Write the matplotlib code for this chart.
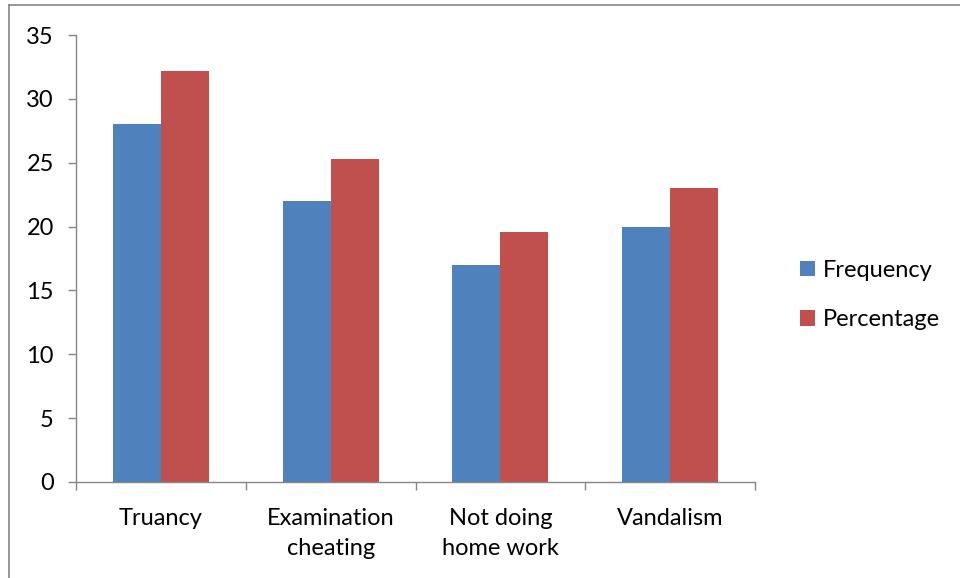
import matplotlib.pyplot as plt
from matplotlib.lines import Line2D
import numpy as np

categories = ["Truancy", "Examination\ncheating", "Not doing\nhome work", "Vandalism"]
frequency = [28, 22, 17, 20]
percentage = [32.18, 25.29, 19.54, 22.99]

plt.rcParams['font.family'] = ['Lato', 'DejaVu Sans']

fig = plt.figure(figsize=(9.6, 5.78), dpi=100)
ax = fig.add_axes([0.0792, 0.1661, 0.7073, 0.7733])

x = np.arange(len(categories))
w = 0.283
ax.bar(x - w / 2, frequency, w, color="#4f81bd", label="Frequency")
ax.bar(x + w / 2, percentage, w, color="#c0504d", label="Percentage")

ax.set_xlim(-0.5, len(categories) - 0.5)
ax.set_ylim(0, 35)
ax.set_yticks(range(0, 36, 5))

# category ticks sit on group boundaries, labels in the middle
ax.set_xticks(np.arange(-0.5, len(categories), 1))
ax.set_xticklabels([])
ax.set_xticks(x, minor=True)
ax.set_xticklabels(categories, minor=True, fontsize=17, linespacing=1.5)
ax.tick_params(axis='x', which='minor', length=0, pad=19)
ax.tick_params(axis='x', which='major', length=6, color="#868686", width=1)
ax.tick_params(axis='y', length=6, color="#868686", width=1, labelsize=17, pad=10)

for s in ["top", "right"]:
    ax.spines[s].set_visible(False)
for s in ["left", "bottom"]:
    ax.spines[s].set_color("#868686")
    ax.spines[s].set_linewidth(1)

fig.legend(*ax.get_legend_handles_labels(), loc="center left",
           bbox_to_anchor=(800 / 960, 1 - 295 / 578), frameon=False,
           fontsize=17, handlelength=0.62, handleheight=0.62, handletextpad=0.35,
           labelspacing=1.2, borderpad=0, borderaxespad=0)

# outer chart border (left and top edges)
fig.add_artist(Line2D([9 / 960, 9 / 960], [0, 1 - 5 / 578], color="#868686", lw=1.2,
                      transform=fig.transFigure))
fig.add_artist(Line2D([9 / 960, 1], [1 - 5 / 578, 1 - 5 / 578], color="#868686", lw=1.2,
                      transform=fig.transFigure))

fig.savefig("out.png", dpi=100)
